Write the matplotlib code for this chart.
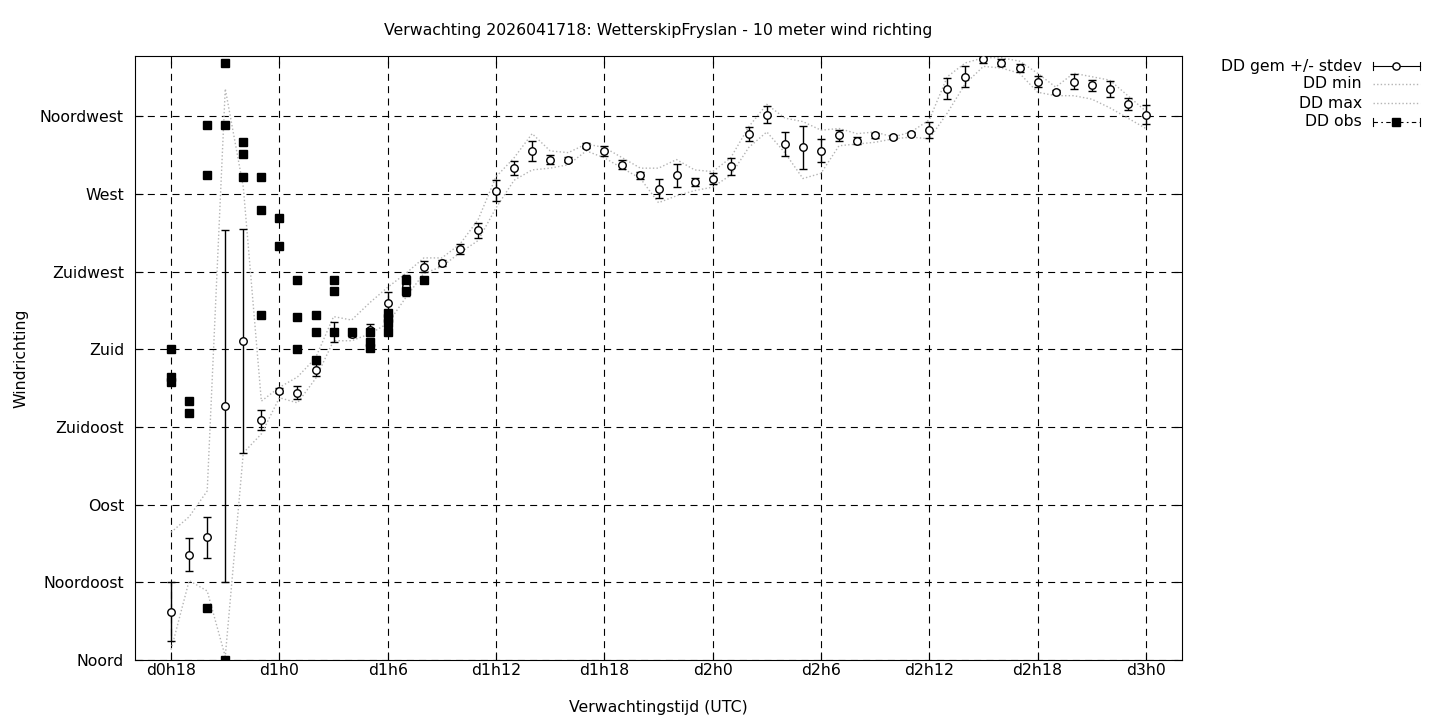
import matplotlib
matplotlib.use("Agg")
import matplotlib.pyplot as plt
from matplotlib.lines import Line2D
import numpy as np

# ---- data ----
hours = list(range(18, 73))
dd_mean = [28, 61, 71, 147, 185, 139, 156, 155, 168, 190, 189, 191, 207, 217, 228, 230, 238, 249,
           272, 285, 295, 290, 290, 298, 295, 287, 281, 273, 281, 277, 279, 286, 305, 316, 299,
           297, 295, 304, 301, 304, 303, 305, 307, 331, 338, 348, 346, 343, 335, 329, 335, 333,
           331, 322, 316]
dd_sd = [17, 9.5, 12, 102, 65, 6, 1.5, 3.5, 3.5, 6, 2, 3.5, 6, 6, 3, 1.5, 3, 4.5,
         6, 4, 6, 2.5, 1.5, 1.5, 3, 2.5, 2, 5.5, 6.7, 2.5, 3, 5, 4, 5, 6.7,
         12.7, 6.7, 3, 2, 1.5, 1, 1, 4.6, 6, 6, 2, 2, 2.5, 3.2, 1.2, 4.3, 3,
         4.6, 3.5, 5.5]
dd_min = [6, 46, 40, 2, 120, 131, 152, 149, 163, 185, 185, 189, 195, 210, 224, 228, 236, 243,
          262, 278, 284, 285, 287, 295, 291, 285, 279, 265, 269, 272, 274, 281, 297, 306, 294,
          279, 282, 298, 299, 300, 302, 303, 302, 317, 334, 344, 343, 340, 329, 327, 327, 325,
          320, 314, 308]
dd_max = [74, 83, 98, 331, 274, 150, 158, 164, 175, 199, 197, 207, 216, 224, 233, 233, 241, 255,
          280, 291, 305, 295, 294, 299, 297, 291, 285, 285, 290, 284, 283, 291, 309, 322, 314,
          312, 307, 308, 305, 306, 303, 306, 313, 338, 346, 349, 349, 347, 340, 332, 340, 338,
          336, 327, 318]

obs_hours = [18, 18, 18, 19, 19, 20, 20, 20, 21, 21, 21, 22, 22, 22, 23, 23, 23, 24, 24,
             25, 25, 25, 26, 26, 26, 27, 27, 27, 28, 29, 29, 29, 30, 30, 30, 30, 31, 31, 32]
obs_dir = [180, 164, 161, 150, 143, 310, 281, 30, 346, 310, 0, 300, 293, 280, 280, 261, 200,
           256, 240, 220, 199, 180, 200, 190, 174, 220, 214, 190, 190, 190, 184, 181,
           201, 198, 195, 190, 220, 214, 220]

xtick_pos = list(range(18, 73, 6))
xtick_labels = ["d0h18", "d1h0", "d1h6", "d1h12", "d1h18", "d2h0", "d2h6", "d2h12", "d2h18", "d3h0"]
ytick_pos = [0, 45, 90, 135, 180, 225, 270, 315]
ytick_labels = ["Noord", "Noordoost", "Oost", "Zuidoost", "Zuid", "Zuidwest", "West", "Noordwest"]

title = "Verwachting 2026041718: WetterskipFryslan - 10 meter wind richting"

FS = 11.3
plt.rcParams["font.family"] = ["DejaVu Sans"]
fig = plt.figure(figsize=(14.4, 7.2), dpi=100)
ax = fig.add_axes([135 / 1440, 1 - 660 / 720, (1182 - 135) / 1440, (660 - 56) / 720])

grey = "#b4b4b4"
dotted = (0, (1, 1.6))
ax.plot(hours, dd_min, color=grey, linestyle=dotted, lw=1.0, zorder=2)
ax.plot(hours, dd_max, color=grey, linestyle=dotted, lw=1.0, zorder=2)

ax.errorbar(hours, dd_mean, yerr=dd_sd, fmt="o", color="black", ecolor="black",
            elinewidth=1.0, capsize=3.2, capthick=1.0, markersize=5.4,
            markerfacecolor="white", markeredgecolor="black", markeredgewidth=1.0, zorder=4)
ax.errorbar(obs_hours, obs_dir, yerr=[0] * len(obs_dir), fmt="s", color="black",
            ecolor="black", elinewidth=1.0, capsize=3.2, capthick=1.0, markersize=5.2,
            zorder=5)

ax.set_xlim(16, 74)
ax.set_ylim(0, 350)
ax.set_xticks(xtick_pos)
ax.set_xticklabels(xtick_labels)
ax.set_yticks(ytick_pos)
ax.set_yticklabels(ytick_labels)
ax.tick_params(direction="in", length=6, width=0.8, labelsize=FS, top=True, right=True)
ax.tick_params(axis="y", pad=8)
ax.tick_params(axis="x", pad=2)
ax.grid(True, color="black", linestyle=(0, (6.3, 4.8)), linewidth=0.8)
for s in ax.spines.values():
    s.set_linewidth(0.8)

ax.set_title(title, fontsize=FS, pad=15)
ax.set_xlabel("Verwachtingstijd (UTC)", fontsize=FS, labelpad=16)
ax.set_ylabel("Windrichting", fontsize=FS, labelpad=8)

# legend drawn in figure coordinates
W, H = 1440.0, 720.0
rows = [66, 84, 103, 122]
labels = ["DD gem +/- stdev", "DD min", "DD max", "DD obs"]
x_text = 1362 / W
x0, x1, xm = 1373 / W, 1420 / W, 1396 / W
for yy, lab in zip(rows, labels):
    fig.text(x_text, 1 - yy / H, lab, ha="right", va="center", fontsize=FS)


def seg(xa, xb, ya, yb, **kw):
    fig.add_artist(Line2D([xa, xb], [ya, yb], transform=fig.transFigure, **kw))


# gem
yf = 1 - rows[0] / H
seg(x0, x1, yf, yf, color="black", lw=0.8)
for xx in (x0, x1):
    seg(xx, xx, yf - 4 / H, yf + 4 / H, color="black", lw=0.8)
fig.add_artist(Line2D([xm], [yf], transform=fig.transFigure, marker="o", markersize=5.2,
                      markerfacecolor="white", markeredgecolor="black", lw=0))
# min / max
for r in rows[1:3]:
    yf = 1 - r / H
    seg(x0, x1, yf, yf, color=grey, lw=1.0, linestyle=dotted)
# obs
yf = 1 - rows[3] / H
seg(x0, x1, yf, yf, color="black", lw=0.8, linestyle=(0, (4, 3, 1.5, 3)))
for xx in (x0, x1):
    seg(xx, xx, yf - 4 / H, yf + 4 / H, color="black", lw=0.8)
fig.add_artist(Line2D([xm], [yf], transform=fig.transFigure, marker="s", markersize=5.2,
                      color="black", lw=0))

fig.savefig("out.png", dpi=100)
